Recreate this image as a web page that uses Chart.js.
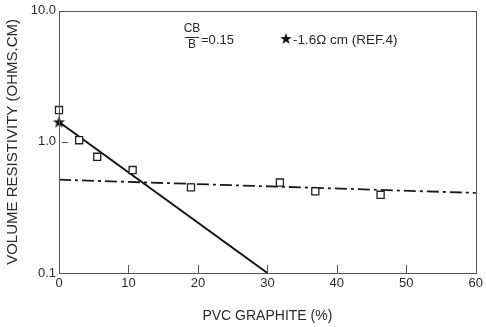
<!DOCTYPE html>
<html>
<head>
<meta charset="utf-8">
<script src="https://cdn.jsdelivr.net/npm/chart.js@4/dist/chart.umd.min.js"></script>
<style>
html,body{margin:0;padding:0;background:#fff;}
#wrap{width:486px;height:327px;position:relative;}
</style>
</head>
<body>
<div id="wrap"><canvas id="c" width="486" height="327"></canvas></div>
<script>
// ---- data ----
const graphiteX = [0, 2.9, 5.5, 10.6, 19.0, 31.8, 36.9, 46.3];
const resistivityY = [1.75, 1.03, 0.77, 0.61, 0.45, 0.49, 0.42, 0.395];
const refStarX = [0];
const refStarY = [1.42];
const solidFitX = [0, 30];
const solidFitY = [1.42, 0.1];
const dashFitX = [0, 60];
const dashFitY = [0.515, 0.408];
const yTickValues = [0.1, 1, 10];
const xTickValues = [0, 10, 20, 30, 40, 50, 60];
const innerXTicks = [10, 20, 30, 40, 50];
const innerYTicks = [1];

const FONT = "'Liberation Sans', Arial, Helvetica, sans-serif";
const INK = '#2a2a2a';
const AXIS = '#555';

function pts(xs, ys){ return xs.map((x,i)=>({x:x, y:ys[i]})); }

function starPath(ctx, cx, cy, R, r){
  ctx.beginPath();
  for (let i=0;i<10;i++){
    const ang = -Math.PI/2 + i*Math.PI/5;
    const rad = (i%2===0)?R:r;
    const px = cx + rad*Math.cos(ang), py = cy + rad*Math.sin(ang);
    if(i===0) ctx.moveTo(px,py); else ctx.lineTo(px,py);
  }
  ctx.closePath();
}
const starImg = document.createElement('canvas');
starImg.width = 13; starImg.height = 13;
(function(){ const g = starImg.getContext('2d'); g.fillStyle = '#111'; starPath(g, 6.5, 7, 6.5, 2.6); g.fill(); })();

const framePlugin = {
  id: 'frame',
  afterDraw(chart){
    const {ctx, chartArea:a, scales:{x, y}} = chart;
    ctx.save();
    ctx.strokeStyle = AXIS; ctx.lineWidth = 1;
    ctx.strokeRect(Math.round(a.left)+0.5, Math.round(a.top)+0.5, Math.round(a.right-a.left), Math.round(a.bottom-a.top));
    ctx.beginPath();
    innerXTicks.forEach(v=>{ const px = Math.round(x.getPixelForValue(v))+0.5; ctx.moveTo(px, a.bottom); ctx.lineTo(px, a.bottom-8); });
    innerYTicks.forEach(v=>{ const py = Math.round(y.getPixelForValue(v))+0.5; ctx.moveTo(a.left+3, py); ctx.lineTo(a.left+9, py); });
    ctx.stroke();
    // annotation
    ctx.fillStyle = INK;
    ctx.font = '12px ' + FONT;
    ctx.textBaseline = 'middle';
    ctx.textAlign = 'center';
    ctx.fillText('CB', 192, 29);
    ctx.fillText('B', 192, 45);
    ctx.beginPath(); ctx.moveTo(185, 37.5); ctx.lineTo(199, 37.5); ctx.strokeStyle = INK; ctx.stroke();
    ctx.textAlign = 'left';
    ctx.font = '13px ' + FONT;
    ctx.fillText('=0.15', 201, 40);
    ctx.fillStyle = '#111';
    starPath(ctx, 286, 39, 6, 2.4); ctx.fill();
    ctx.fillStyle = INK;
    ctx.font = '13.5px ' + FONT;
    ctx.fillText('-1.6\u03A9 cm (REF.4)', 293, 40);
    ctx.restore();
  }
};

new Chart(document.getElementById('c'), {
  type: 'scatter',
  data: {
    datasets: [
      { label: 'fit solid', data: pts(solidFitX, solidFitY), showLine: true, borderColor: '#111', borderWidth: 2, pointRadius: 0, clip: false, order: 3 },
      { label: 'fit dashdot', data: pts(dashFitX, dashFitY), showLine: true, borderColor: '#1a1a1a', borderWidth: 1.8, borderDash: [12, 4, 3, 4], pointRadius: 0, clip: false, order: 4 },
      { label: 'data', data: pts(graphiteX, resistivityY), pointStyle: 'rect', pointRadius: 5, borderColor: '#222', backgroundColor: '#fff', pointBorderWidth: 1.3, showLine: false, clip: false, order: 1 },
      { label: 'ref', data: pts(refStarX, refStarY), pointStyle: starImg, pointRadius: 6, showLine: false, clip: false, order: 0 }
    ]
  },
  options: {
    responsive: false,
    animation: false,
    devicePixelRatio: 1,
    layout: { padding: { top: 10, right: 7, left: 0, bottom: 0 } },
    plugins: { legend: { display: false }, tooltip: { enabled: false } },
    scales: {
      x: {
        type: 'linear', min: 0, max: 60,
        afterBuildTicks(s){ s.ticks = xTickValues.map(v=>({value:v})); },
        afterFit(s){ s.height = 54; },
        grid: { display: false, drawTicks: false },
        border: { display: false },
        ticks: { color: INK, font: { family: FONT, size: 13 }, padding: 3, maxRotation: 0, autoSkip: false },
        title: { display: true, text: 'PVC GRAPHITE (%)', color: INK, font: { family: FONT, size: 14 }, padding: { top: 0, bottom: 2 } }
      },
      y: {
        type: 'logarithmic', min: 0.1, max: 10,
        afterBuildTicks(s){ s.ticks = yTickValues.map(v=>({value:v})); },
        afterFit(s){ s.width = 59; },
        grid: { display: false, drawTicks: false },
        border: { display: false },
        ticks: { color: INK, font: { family: FONT, size: 13 }, padding: 3, callback: v => Number(v).toFixed(1) },
        title: { display: true, text: 'VOLUME RESISTIVITY (OHMS.CM)', color: INK, font: { family: FONT, size: 15 }, padding: { top: 3.5, bottom: 0 } }
      }
    }
  },
  plugins: [framePlugin]
});
</script>
</body>
</html>
